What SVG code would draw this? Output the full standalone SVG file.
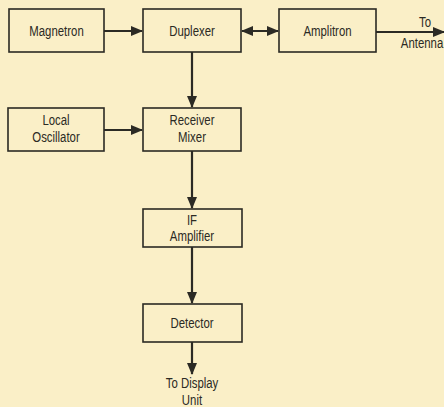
<svg xmlns="http://www.w3.org/2000/svg" width="444" height="407" viewBox="0 0 444 407">
  <style>
    .box { fill: none; stroke: #2b2a24; stroke-width: 1.6; }
    .lbl { font-family: "Liberation Sans", Arial, sans-serif; font-size: 15px; fill: #2b2a24; text-anchor: middle; }
    .wire { fill: none; stroke: #2b2a24; stroke-width: 2.2; }
  </style>
  <defs>
    <marker id="arrow" markerUnits="userSpaceOnUse" markerWidth="12" markerHeight="10" refX="11" refY="5" orient="auto">
      <path d="M0,0 L12,5 L0,10 Z" fill="#2b2a24"/>
    </marker>
    <marker id="arrowStart" markerUnits="userSpaceOnUse" markerWidth="12" markerHeight="10" refX="1" refY="5" orient="auto">
      <path d="M12,0 L0,5 L12,10 Z" fill="#2b2a24"/>
    </marker>
  </defs>
  <rect width="444" height="407" fill="#faefc7"/>

  <g id="connectors">
    <line class="wire" x1="104" y1="31" x2="142" y2="31" marker-end="url(#arrow)"/>
    <line class="wire" x1="242" y1="31" x2="278" y2="31" marker-start="url(#arrowStart)" marker-end="url(#arrow)"/>
    <line class="wire" x1="376" y1="32" x2="444" y2="32" marker-end="url(#arrow)"/>
    <line class="wire" x1="192" y1="52" x2="192" y2="107" marker-end="url(#arrow)"/>
    <line class="wire" x1="104" y1="130" x2="142" y2="130" marker-end="url(#arrow)"/>
    <line class="wire" x1="192" y1="151" x2="192" y2="208" marker-end="url(#arrow)"/>
    <line class="wire" x1="192" y1="247" x2="192" y2="303" marker-end="url(#arrow)"/>
    <line class="wire" x1="192" y1="342" x2="192" y2="374" marker-end="url(#arrow)"/>
  </g>

  <!-- labels use a horizontally compressed sans to mimic a condensed face -->
  <g id="magnetron">
    <rect class="box" x="9" y="9" width="95" height="43"/>
    <text class="lbl" transform="translate(56.5,36) scale(0.76,1)">Magnetron</text>
  </g>
  <g id="duplexer">
    <rect class="box" x="143" y="9" width="98" height="43"/>
    <text class="lbl" transform="translate(192,36) scale(0.76,1)">Duplexer</text>
  </g>
  <g id="amplitron">
    <rect class="box" x="279" y="9" width="97" height="43"/>
    <text class="lbl" transform="translate(327.5,36) scale(0.76,1)">Amplitron</text>
  </g>
  <g id="antenna">
    <text class="lbl" transform="translate(425,27) scale(0.76,1)">To</text>
    <text class="lbl" transform="translate(422,48) scale(0.76,1)">Antenna</text>
  </g>
  <g id="local-oscillator">
    <rect class="box" x="8" y="108" width="96" height="43"/>
    <text class="lbl" transform="translate(56,125) scale(0.76,1)">Local</text>
    <text class="lbl" transform="translate(56,142) scale(0.76,1)">Oscillator</text>
  </g>
  <g id="receiver-mixer">
    <rect class="box" x="143" y="108" width="98" height="43"/>
    <text class="lbl" transform="translate(192,125) scale(0.76,1)">Receiver</text>
    <text class="lbl" transform="translate(192,142) scale(0.76,1)">Mixer</text>
  </g>
  <g id="if-amplifier">
    <rect class="box" x="143" y="209" width="99" height="38"/>
    <text class="lbl" transform="translate(192,225) scale(0.76,1)">IF</text>
    <text class="lbl" transform="translate(192,241) scale(0.76,1)">Amplifier</text>
  </g>
  <g id="detector">
    <rect class="box" x="143" y="304" width="99" height="38"/>
    <text class="lbl" transform="translate(192,328) scale(0.76,1)">Detector</text>
  </g>
  <g id="display">
    <text class="lbl" transform="translate(192,388) scale(0.76,1)">To Display</text>
    <text class="lbl" transform="translate(192,405) scale(0.76,1)">Unit</text>
  </g>
</svg>
